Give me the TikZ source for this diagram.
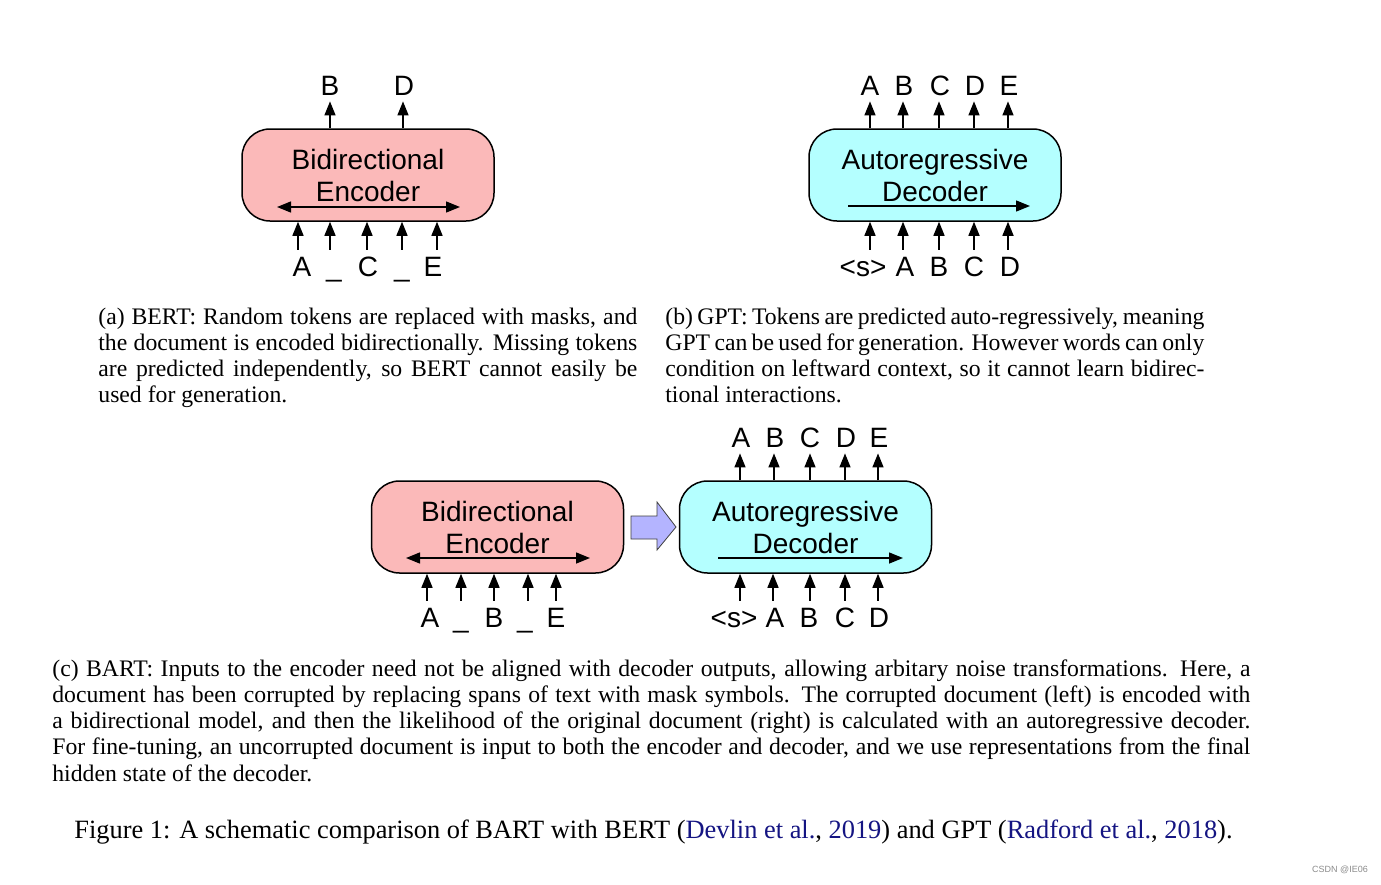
\documentclass[tikz,border=0pt]{standalone}
\usepackage{fontspec}
\setmainfont{Liberation Serif}
\newfontfamily\hv{Liberation Sans}
\usetikzlibrary{arrows.meta}
\definecolor{encpink}{RGB}{251,185,185}
\definecolor{deccyan}{RGB}{180,255,255}
\definecolor{bigblue}{RGB}{180,180,255}
\definecolor{citeblue}{RGB}{20,20,130}
\begin{document}
\begin{tikzpicture}[x=0.5pt,y=-0.5pt,
  box/.style={draw=black, line width=0.75pt, rounded corners=14pt, minimum width=126pt, minimum height=46pt, align=center, font=\hv\fontsize{14}{16}\selectfont, inner sep=0pt},
  tok/.style={font=\hv\fontsize{14}{16}\selectfont, inner sep=3pt, text height=10pt, text depth=0pt, anchor=base},
  arr/.style={-{Triangle[length=7pt,width=5.5pt]}, line width=0.7pt},
  darr/.style={{Triangle[length=7pt,width=5.5pt]}-{Triangle[length=7pt,width=5.5pt]}, line width=0.7pt},
  captxt/.style={anchor=base west, inner sep=0pt, align=justify, font=\fontsize{11.85}{13.15}\selectfont}]
\fill[white] (0,0) rectangle (1381,884);
\useasboundingbox (0,0) rectangle (1381,884);

% ---------- (a) BERT ----------
\node[box, fill=encpink] (encA) at (368,175) {Bidirectional\\Encoder};
\coordinate (aL) at (277,207); \coordinate (aR) at (460,207);
\draw[darr] (aL) -- (aR);
\foreach \n/\lx/\ax/\t in {1/330/330/B, 2/404/403/D} {
  \node[tok] (aout\n) at (\lx,95) {\t};
  \draw[arr] (encA.north -| \ax,0) -- (aout\n.south -| \ax,0);
}
\foreach \n/\lx/\ax/\t in {1/302/298/A, 2/334/330/\_, 3/368/367/C, 4/402/402/\_, 5/433/437/E} {
  \node[tok] (ain\n) at (\lx,276) {\t};
  \draw[arr] (ain\n.north -| \ax,0) -- (encA.south -| \ax,0);
}

% ---------- (b) GPT ----------
\node[box, fill=deccyan] (decB) at (935,175) {Autoregressive\\Decoder};
\coordinate (bL) at (848,206); \coordinate (bR) at (1030,206);
\draw[arr] (bL) -- (bR);
\foreach \n/\lx/\ax/\t in {1/870/870/A, 2/904/903/B, 3/940/939/C, 4/975/974/D, 5/1009/1008/E} {
  \node[tok] (bout\n) at (\lx,95) {\t};
  \draw[arr] (decB.north -| \ax,0) -- (bout\n.south -| \ax,0);
}
\foreach \n/\lx/\ax/\t in {1/863/870/<s>, 2/905/903/A, 3/939/939/B, 4/974/974/C, 5/1010/1008/D} {
  \node[tok] (bin\n) at (\lx,276) {\t};
  \draw[arr] (bin\n.north -| \ax,0) -- (decB.south -| \ax,0);
}

% ---------- captions (a) (b) ----------
\node[captxt, text width=269.5pt] (capA) at (98,324) {(a) BERT: Random tokens are replaced with masks, and\linebreak the document is encoded bidirectionally. Missing tokens\linebreak are predicted independently, so BERT cannot easily be\linebreak used for generation.};
\node[captxt, text width=269.5pt] (capB) at (665,324) {(b) GPT: Tokens are predicted auto-regressively, meaning\linebreak GPT can be used for generation. However words can only\linebreak condition on leftward context, so it cannot learn bidirec-\linebreak tional interactions.};

% ---------- (c) BART ----------
\node[box, fill=encpink] (encC) at (497.5,527) {Bidirectional\\Encoder};
\coordinate (cL) at (406,558); \coordinate (cR) at (590,558);
\draw[darr] (cL) -- (cR);
\foreach \n/\lx/\ax/\t in {1/430/427/A, 2/461/461/\_, 3/494/494/B, 4/525/528/\_, 5/556/556/E} {
  \node[tok] (cin\n) at (\lx,627) {\t};
  \draw[arr] (cin\n.north -| \ax,0) -- (encC.south -| \ax,0);
}
\node[box, fill=deccyan] (decC) at (805.5,527) {Autoregressive\\Decoder};
\coordinate (dL) at (718,558); \coordinate (dR) at (903,558);
\draw[arr] (dL) -- (dR);
\foreach \n/\lx/\ax/\t in {1/741/740/A, 2/775/774/B, 3/810/810/C, 4/846/845/D, 5/879/878/E} {
  \node[tok] (dout\n) at (\lx,447) {\t};
  \draw[arr] (decC.north -| \ax,0) -- (dout\n.south -| \ax,0);
}
\foreach \n/\lx/\ax/\t in {1/734/740/<s>, 2/775/773/A, 3/809/810/B, 4/845/845/C, 5/879/878/D} {
  \node[tok] (din\n) at (\lx,627) {\t};
  \draw[arr] (din\n.north -| \ax,0) -- (decC.south -| \ax,0);
}
% big hollow arrow between encoder and decoder
\draw[fill=bigblue, draw=black!75, line width=0.4pt]
  (631,516) -- (657,516) -- (657,502) -- (676,527) -- (657,550) -- (657,539) -- (631,539) -- cycle;

\node[captxt, text width=599pt] (capC) at (52,676) {(c) BART: Inputs to the encoder need not be aligned with decoder outputs, allowing arbitary noise transformations. Here, a\linebreak document has been corrupted by replacing spans of text with mask symbols. The corrupted document (left) is encoded with\linebreak a bidirectional model, and then the likelihood of the original document (right) is calculated with an autoregressive decoder.\linebreak For fine-tuning, an uncorrupted document is input to both the encoder and decoder, and we use representations from the final\linebreak hidden state of the decoder.};

\node[anchor=base west, inner sep=0pt, font=\fontsize{13.2}{15}\selectfont] (fig) at (74,838) {Figure 1: A schematic comparison of BART with BERT (\textcolor{citeblue}{Devlin et al.}, \textcolor{citeblue}{2019}) and GPT (\textcolor{citeblue}{Radford et al.}, \textcolor{citeblue}{2018}).};

\node[font=\hv\fontsize{4.5}{5}\selectfont, text=black!45, inner sep=0pt] (wm) at (1340,870) {CSDN @IE06};
\end{tikzpicture}
\end{document}
